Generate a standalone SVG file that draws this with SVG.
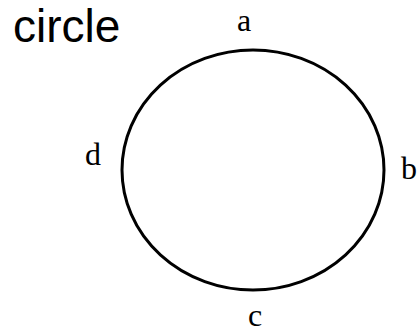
<svg xmlns="http://www.w3.org/2000/svg" width="418" height="332" viewBox="0 0 418 332">
<style>
.title{font-family:"Liberation Sans",Arial,sans-serif;font-size:46px;fill:#000}
.lbl{font-family:"Liberation Serif","Times New Roman",serif;font-size:32px;fill:#000;text-anchor:middle}
.shape{fill:none;stroke:#000;stroke-width:3}
</style>
<rect width="418" height="332" fill="#fff"/>
<text class="title" x="13" y="42">circle</text>
<g id="circle">
<ellipse class="shape" cx="253" cy="170" rx="131" ry="120"/>
</g>
<g id="connectors"></g>
<g id="label-a"><text class="lbl" x="244" y="31">a</text></g>
<g id="label-b"><text class="lbl" x="409" y="179">b</text></g>
<g id="label-c"><text class="lbl" x="255" y="326">c</text></g>
<g id="label-d"><text class="lbl" x="93" y="165">d</text></g>
</svg>
